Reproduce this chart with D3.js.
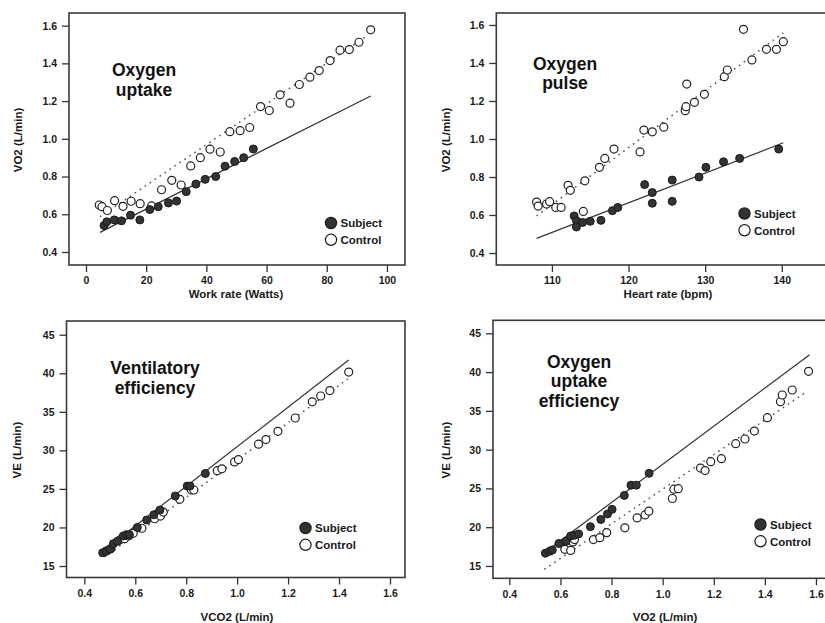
<!DOCTYPE html>
<html>
<head>
<meta charset="utf-8">
<title>CPET panels</title>
<script src="https://d3js.org/d3.v7.min.js"></script>
<style>
  body { margin: 0; background: #fff; }
  svg { display: block; font-family: "Liberation Sans", Arial, sans-serif; }
  .tick text { font-weight: bold; font-size: 10.5px; fill: #1a1a1a; }
  .tick line { stroke: #333; stroke-width: 1.3; }
  .lab { font-weight: bold; font-size: 11.5px; fill: #1a1a1a; }
  .ttl { font-weight: bold; font-size: 17.5px; fill: #111; }
</style>
</head>
<body>
<div id="chart"></div>
<script>
// ---- data ----
// panel 1: work rate (W) vs VO2 (L/min)
const wrSubject = [[6.0,0.54],[6.9,0.56],[9.4,0.57],[11.8,0.565],[14.8,0.595],[17.9,0.57],[21.2,0.625],[24.0,0.64],[27.4,0.66],[30.1,0.67],[33.3,0.72],[36.5,0.76],[39.6,0.785],[43.1,0.80],[46.2,0.855],[49.4,0.88],[52.4,0.90],[55.6,0.946]];
const wrControl = [[4.4,0.649],[5.3,0.64],[7.1,0.62],[9.5,0.672],[12.3,0.642],[15.0,0.669],[18.0,0.656],[21.8,0.644],[25.1,0.73],[28.5,0.78],[31.6,0.755],[34.8,0.856],[38.0,0.90],[41.2,0.945],[44.6,0.93],[47.8,1.038],[51.2,1.043],[54.4,1.06],[58.0,1.171],[60.9,1.15],[64.5,1.233],[67.8,1.189],[70.9,1.288],[74.4,1.327],[77.5,1.362],[81.1,1.415],[84.4,1.47],[87.5,1.473],[90.7,1.512],[94.6,1.578]];
const wrFitSubject = [[4.65,0.504],[94.6,1.227]];
const wrFitControl = [[4.65,0.587],[93.3,1.545]];

// panel 2: heart rate (bpm) vs VO2
const hrSubject = [[112.9,0.595],[113.2,0.57],[113.2,0.537],[114.0,0.561],[115.0,0.567],[116.4,0.572],[117.9,0.623],[118.6,0.64],[122.1,0.76],[123.1,0.718],[123.1,0.662],[125.7,0.784],[125.7,0.672],[129.2,0.80],[130.1,0.851],[132.4,0.88],[134.5,0.898],[139.6,0.947]];
const hrControl = [[108.0,0.668],[108.2,0.647],[109.3,0.658],[109.7,0.67],[110.5,0.64],[111.2,0.64],[112.1,0.756],[112.4,0.73],[114.1,0.619],[114.3,0.78],[116.2,0.851],[116.9,0.898],[118.1,0.947],[121.5,0.932],[122.0,1.047],[123.1,1.038],[124.6,1.062],[127.4,1.149],[127.5,1.17],[127.6,1.289],[128.6,1.193],[129.9,1.235],[132.5,1.328],[132.9,1.363],[135.0,1.577],[136.1,1.416],[138.0,1.472],[139.3,1.472],[140.2,1.512]];
const hrFitSubject = [[108.0,0.477],[140.2,0.98]];
const hrFitControl = [[108.0,0.595],[140.2,1.559]];

// panel 3: VCO2 vs VE
const vco2Subject = [[0.472,16.72],[0.485,16.9],[0.501,17.2],[0.514,17.9],[0.53,18.2],[0.553,18.9],[0.566,19.06],[0.577,19.06],[0.608,20.0],[0.645,20.97],[0.673,21.65],[0.697,22.26],[0.757,24.08],[0.804,25.37],[0.815,25.37],[0.875,27.0]];
const vco2Control = [[0.488,16.98],[0.504,17.25],[0.54,18.4],[0.558,18.55],[0.574,18.9],[0.592,19.24],[0.626,19.9],[0.676,21.13],[0.699,21.48],[0.71,22.0],[0.775,23.65],[0.82,24.86],[0.83,24.86],[0.922,27.36],[0.94,27.6],[0.99,28.5],[1.005,28.8],[1.084,30.8],[1.113,31.4],[1.16,32.47],[1.228,34.2],[1.295,36.3],[1.328,37.05],[1.364,37.75],[1.438,40.15]];
const vco2FitSubject = [[0.462,16.65],[1.438,41.72]];
const vco2FitControl = [[0.48,16.17],[1.435,39.28]];

// panel 4: VO2 vs VE
const vo2Subject = [[0.541,16.65],[0.558,16.9],[0.568,17.06],[0.594,17.9],[0.622,18.18],[0.64,18.87],[0.655,18.96],[0.671,19.13],[0.717,20.07],[0.758,21.0],[0.784,21.7],[0.802,22.3],[0.85,24.1],[0.876,25.42],[0.897,25.42],[0.947,26.95]];
const vo2Control = [[0.617,17.15],[0.64,17.0],[0.649,18.1],[0.655,18.4],[0.729,18.4],[0.754,18.65],[0.781,19.3],[0.852,19.92],[0.9,21.2],[0.931,21.58],[0.946,22.07],[1.038,23.7],[1.044,24.9],[1.061,24.97],[1.148,27.63],[1.166,27.3],[1.188,28.45],[1.23,28.84],[1.286,30.77],[1.322,31.37],[1.359,32.4],[1.41,34.12],[1.461,36.19],[1.468,37.05],[1.507,37.69],[1.571,40.1]];
const vo2FitSubject = [[0.54,16.8],[1.575,42.25]];
const vo2FitControl = [[0.537,14.57],[1.558,37.35]];

const wrTicks = [0, 20, 40, 60, 80, 100];
const hrTicks = [110, 120, 130, 140];
const vo2Ticks = [0.4, 0.6, 0.8, 1.0, 1.2, 1.4, 1.6];
const veTicks = [15, 20, 25, 30, 35, 40, 45];
const legendLabels = ["Subject", "Control"];

// ---- layout ----
const W = 825, H = 623;
const svg = d3.select("#chart").append("svg").attr("width", W).attr("height", H);

const panels = [
  { box: [69, 13, 405, 265], xDom: [-5.65, 106], yDom: [0.331, 1.667],
    xTicks: wrTicks, yTicks: vo2Ticks, xFmt: d3.format("d"), yFmt: d3.format(".1f"),
    subject: wrSubject, control: wrControl, fitS: wrFitSubject, fitC: wrFitControl,
    xLabel: "Work rate (Watts)", xLabelPos: [236, 297.5], yLabel: "VO2 (L/min)", yLabelPos: [22, 140],
    title: ["Oxygen", "uptake"], titlePos: [144, 76], legendPos: [331, 223] },
  { box: [496.3, 13, 840, 265], xDom: [102.74, 147.6], yDom: [0.337, 1.663],
    xTicks: hrTicks, yTicks: vo2Ticks, xFmt: d3.format("d"), yFmt: d3.format(".1f"),
    subject: hrSubject, control: hrControl, fitS: hrFitSubject, fitC: hrFitControl,
    xLabel: "Heart rate (bpm)", xLabelPos: [668, 297.5], yLabel: "VO2 (L/min)", yLabelPos: [450, 140],
    title: ["Oxygen", "pulse"], titlePos: [565, 69.5], legendPos: [744.5, 213.5] },
  { box: [66.5, 321, 405, 577.5], xDom: [0.330, 1.659], yDom: [13.51, 46.78],
    xTicks: vo2Ticks, yTicks: veTicks, xFmt: d3.format(".1f"), yFmt: d3.format("d"),
    subject: vco2Subject, control: vco2Control, fitS: vco2FitSubject, fitC: vco2FitControl,
    xLabel: "VCO2 (L/min)", xLabelPos: [237, 621], yLabel: "VE (L/min)", yLabelPos: [21, 450],
    title: ["Ventilatory", "efficiency"], titlePos: [155, 374], legendPos: [305.5, 528] },
  { box: [493, 320.3, 840, 578.3], xDom: [0.336, 1.694], yDom: [13.41, 46.68],
    xTicks: vo2Ticks, yTicks: veTicks, xFmt: d3.format(".1f"), yFmt: d3.format("d"),
    subject: vo2Subject, control: vo2Control, fitS: vo2FitSubject, fitC: vo2FitControl,
    xLabel: "VO2 (L/min)", xLabelPos: [665, 621], yLabel: "VE (L/min)", yLabelPos: [450, 450],
    title: ["Oxygen", "uptake", "efficiency"], titlePos: [579, 367.5], legendPos: [760.5, 524.5] }
];

panels.forEach(p => {
  const [x0, y0, x1, y1] = p.box;
  const x = d3.scaleLinear().domain(p.xDom).range([x0, x1]);
  const y = d3.scaleLinear().domain(p.yDom).range([y1, y0]);
  const g = svg.append("g");

  // axes (R style: ticks outside the box)
  g.append("g").attr("transform", `translate(0,${y1})`)
    .call(d3.axisBottom(x).tickValues(p.xTicks).tickFormat(p.xFmt).tickSize(7).tickPadding(5))
    .call(a => a.select(".domain").remove());
  g.append("g").attr("transform", `translate(${x0},0)`)
    .call(d3.axisLeft(y).tickValues(p.yTicks).tickFormat(p.yFmt).tickSize(7).tickPadding(5))
    .call(a => a.select(".domain").remove());

  g.append("rect").attr("x", x0).attr("y", y0).attr("width", x1 - x0).attr("height", y1 - y0)
    .attr("fill", "none").attr("stroke", "#3a3a3a").attr("stroke-width", 1.6);

  // fit lines
  const line = d3.line().x(d => x(d[0])).y(d => y(d[1]));
  g.append("path").datum(p.fitC).attr("d", line)
    .attr("fill", "none").attr("stroke", "#555").attr("stroke-width", 1.5)
    .attr("stroke-dasharray", "1.6,4.4");
  g.append("path").datum(p.fitS).attr("d", line)
    .attr("fill", "none").attr("stroke", "#333").attr("stroke-width", 1.2);

  // points
  g.append("g").selectAll("circle").data(p.control).join("circle")
    .attr("cx", d => x(d[0])).attr("cy", d => y(d[1])).attr("r", 4)
    .attr("fill", "#fff").attr("stroke", "#222").attr("stroke-width", 1.2);
  g.append("g").selectAll("circle").data(p.subject).join("circle")
    .attr("cx", d => x(d[0])).attr("cy", d => y(d[1])).attr("r", 4)
    .attr("fill", "#333").attr("stroke", "#1a1a1a").attr("stroke-width", 1);

  // axis labels
  g.append("text").attr("class", "lab").attr("text-anchor", "middle")
    .attr("x", p.xLabelPos[0]).attr("y", p.xLabelPos[1]).text(p.xLabel);
  g.append("text").attr("class", "lab").attr("text-anchor", "middle")
    .attr("transform", `translate(${p.yLabelPos[0]},${p.yLabelPos[1]}) rotate(-90)`).text(p.yLabel);

  // panel title
  g.append("text").attr("class", "ttl").attr("text-anchor", "middle")
    .selectAll("tspan").data(p.title).join("tspan")
    .attr("x", p.titlePos[0]).attr("y", (d, i) => p.titlePos[1] + i * 19.5).text(d => d);

  // legend
  const lg = g.append("g").attr("transform", `translate(${p.legendPos[0]},${p.legendPos[1]})`);
  legendLabels.forEach((lab, i) => {
    lg.append("circle").attr("cx", 0).attr("cy", i * 16.8).attr("r", 5.6)
      .attr("fill", i === 0 ? "#333" : "#fff").attr("stroke", "#1a1a1a").attr("stroke-width", 1.2);
    lg.append("text").attr("class", "lab").attr("x", 9.5).attr("y", i * 16.8 + 4.2).text(lab);
  });
});
</script>
</body>
</html>
